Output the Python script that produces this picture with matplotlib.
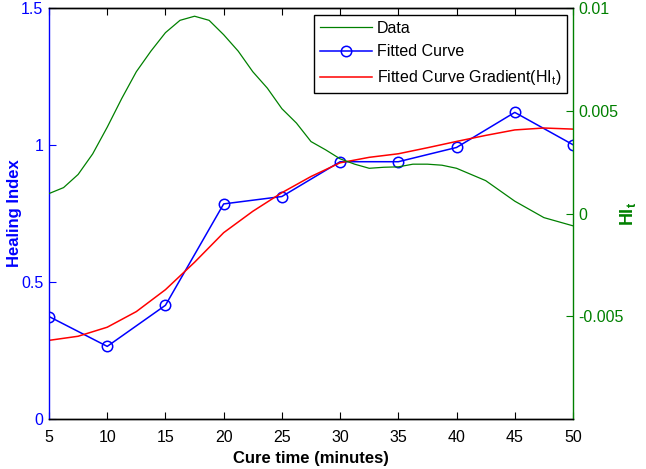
import numpy as np
import matplotlib
matplotlib.use('Agg')
import matplotlib.pyplot as plt

plt.rcParams['font.family'] = ['Liberation Sans', 'DejaVu Sans']
plt.rcParams['mathtext.fontset'] = 'custom'
plt.rcParams['mathtext.rm'] = 'Liberation Sans'
plt.rcParams['mathtext.it'] = 'Liberation Sans:italic'
plt.rcParams['mathtext.bf'] = 'Liberation Sans:bold'

# fitted curve (circles), healing index
cure_time = [5, 10, 15, 20, 25, 30, 35, 40, 45, 50]
healing_index = [0.374, 0.265, 0.415, 0.785, 0.812, 0.939, 0.939, 0.991, 1.119, 1.001]

# red smooth curve, left axis
grad_x = [5, 7.5, 10, 12.5, 15, 17.5, 20, 22.5, 25, 27.5, 30, 32.5, 35, 37.5,
          40, 42.5, 45, 47.5, 50]
grad_y = [0.287, 0.302, 0.335, 0.392, 0.472, 0.572, 0.68, 0.758, 0.826, 0.885,
          0.935, 0.955, 0.968, 0.99, 1.013, 1.035, 1.055, 1.062, 1.058]

# green data, right axis (HI_t)
data_x = [5, 6.25, 7.5, 8.75, 10, 11.25, 12.5, 13.75, 15, 16.25, 17.5, 18.75,
          20, 21.25, 22.5, 23.75, 25, 26.25, 27.5, 28.75, 30, 31.25, 32.5,
          33.75, 35, 36.25, 37.5, 38.75, 40, 41.25, 42.5, 43.75, 45, 46.25,
          47.5, 48.75, 50]
data_y = [0.00097, 0.00126, 0.0019, 0.0029, 0.0042, 0.0056, 0.0069, 0.0079,
          0.0088, 0.0094, 0.0096, 0.0094, 0.0087, 0.0079, 0.0069, 0.0061,
          0.0051, 0.0044, 0.0035, 0.0031, 0.00266, 0.0024, 0.0022, 0.00225,
          0.00227, 0.0024, 0.0024, 0.00235, 0.0022, 0.0019, 0.0016, 0.0011,
          0.0006, 0.0002, -0.0002, -0.0004, -0.0006]

blue = '#0000ff'
red = '#ff0000'
green = '#008000'

fig = plt.figure(figsize=(6.46, 4.69), dpi=100)
ax1 = fig.add_axes([49/646, 1-419/469, (573-49)/646, (419-8)/469])
ax2 = ax1.twinx()

l2, = ax1.plot(cure_time, healing_index, '-o', color=blue, lw=1.1,
               markersize=7.5, markerfacecolor='none', markeredgewidth=1.1,
               label='Fitted Curve')
l3, = ax1.plot(grad_x, grad_y, '-', color=red, lw=1.1,
               label=r'Fitted Curve Gradient(HI$_\mathrm{t}$)')
l1, = ax2.plot(data_x, data_y, '-', color=green, lw=0.9, label='Data')

ax1.set_xlim(5, 50)
ax1.set_ylim(0, 1.5)
ax1.set_xticks(range(5, 51, 5))
ax1.set_yticks([0, 0.5, 1, 1.5])
ax1.set_yticklabels(['0', '0.5', '1', '1.5'])
ax2.set_ylim(-0.01, 0.01)
ax2.set_yticks([-0.005, 0, 0.005, 0.01])
ax2.set_yticklabels(['-0.005', '0', '0.005', '0.01'])

ax1.tick_params(axis='x', direction='in', top=True, length=5, labelsize=11.5,
                colors='black', pad=8)
ax1.tick_params(axis='y', direction='in', length=5, labelsize=11.5,
                colors=blue, pad=4)
ax2.tick_params(axis='y', direction='in', length=5, labelsize=11.5,
                colors=green, pad=4)

ax1.spines['left'].set_color(blue)
ax1.spines['right'].set_visible(False)
ax2.spines['left'].set_visible(False)
ax2.spines['right'].set_color(green)
for ax in (ax1, ax2):
    ax.spines['top'].set_color('black')
    ax.spines['bottom'].set_color('black')
    for s in ax.spines.values():
        s.set_linewidth(1.0)

ax1.set_xlabel('Cure time (minutes)', fontsize=12, fontweight='bold', labelpad=4)
ax1.set_ylabel('Healing Index', fontsize=12, fontweight='bold', color=blue)
ax1.yaxis.set_label_coords(-0.052, 0.5)
ax2.set_ylabel(r'$\mathbf{HI_t}$', fontsize=13, color=green)
ax2.yaxis.set_label_coords(1.085, 0.5)

leg = ax2.legend(handles=[l1, l2, l3], loc='upper right',
                 bbox_to_anchor=(0.9885, 0.983), fontsize=11.5, fancybox=False,
                 framealpha=1, edgecolor='black', handlelength=3.3,
                 borderpad=0.35, labelspacing=0.55, handletextpad=0.3,
                 borderaxespad=0)
leg.get_frame().set_linewidth(1.0)

fig.savefig('out.png', dpi=100)
